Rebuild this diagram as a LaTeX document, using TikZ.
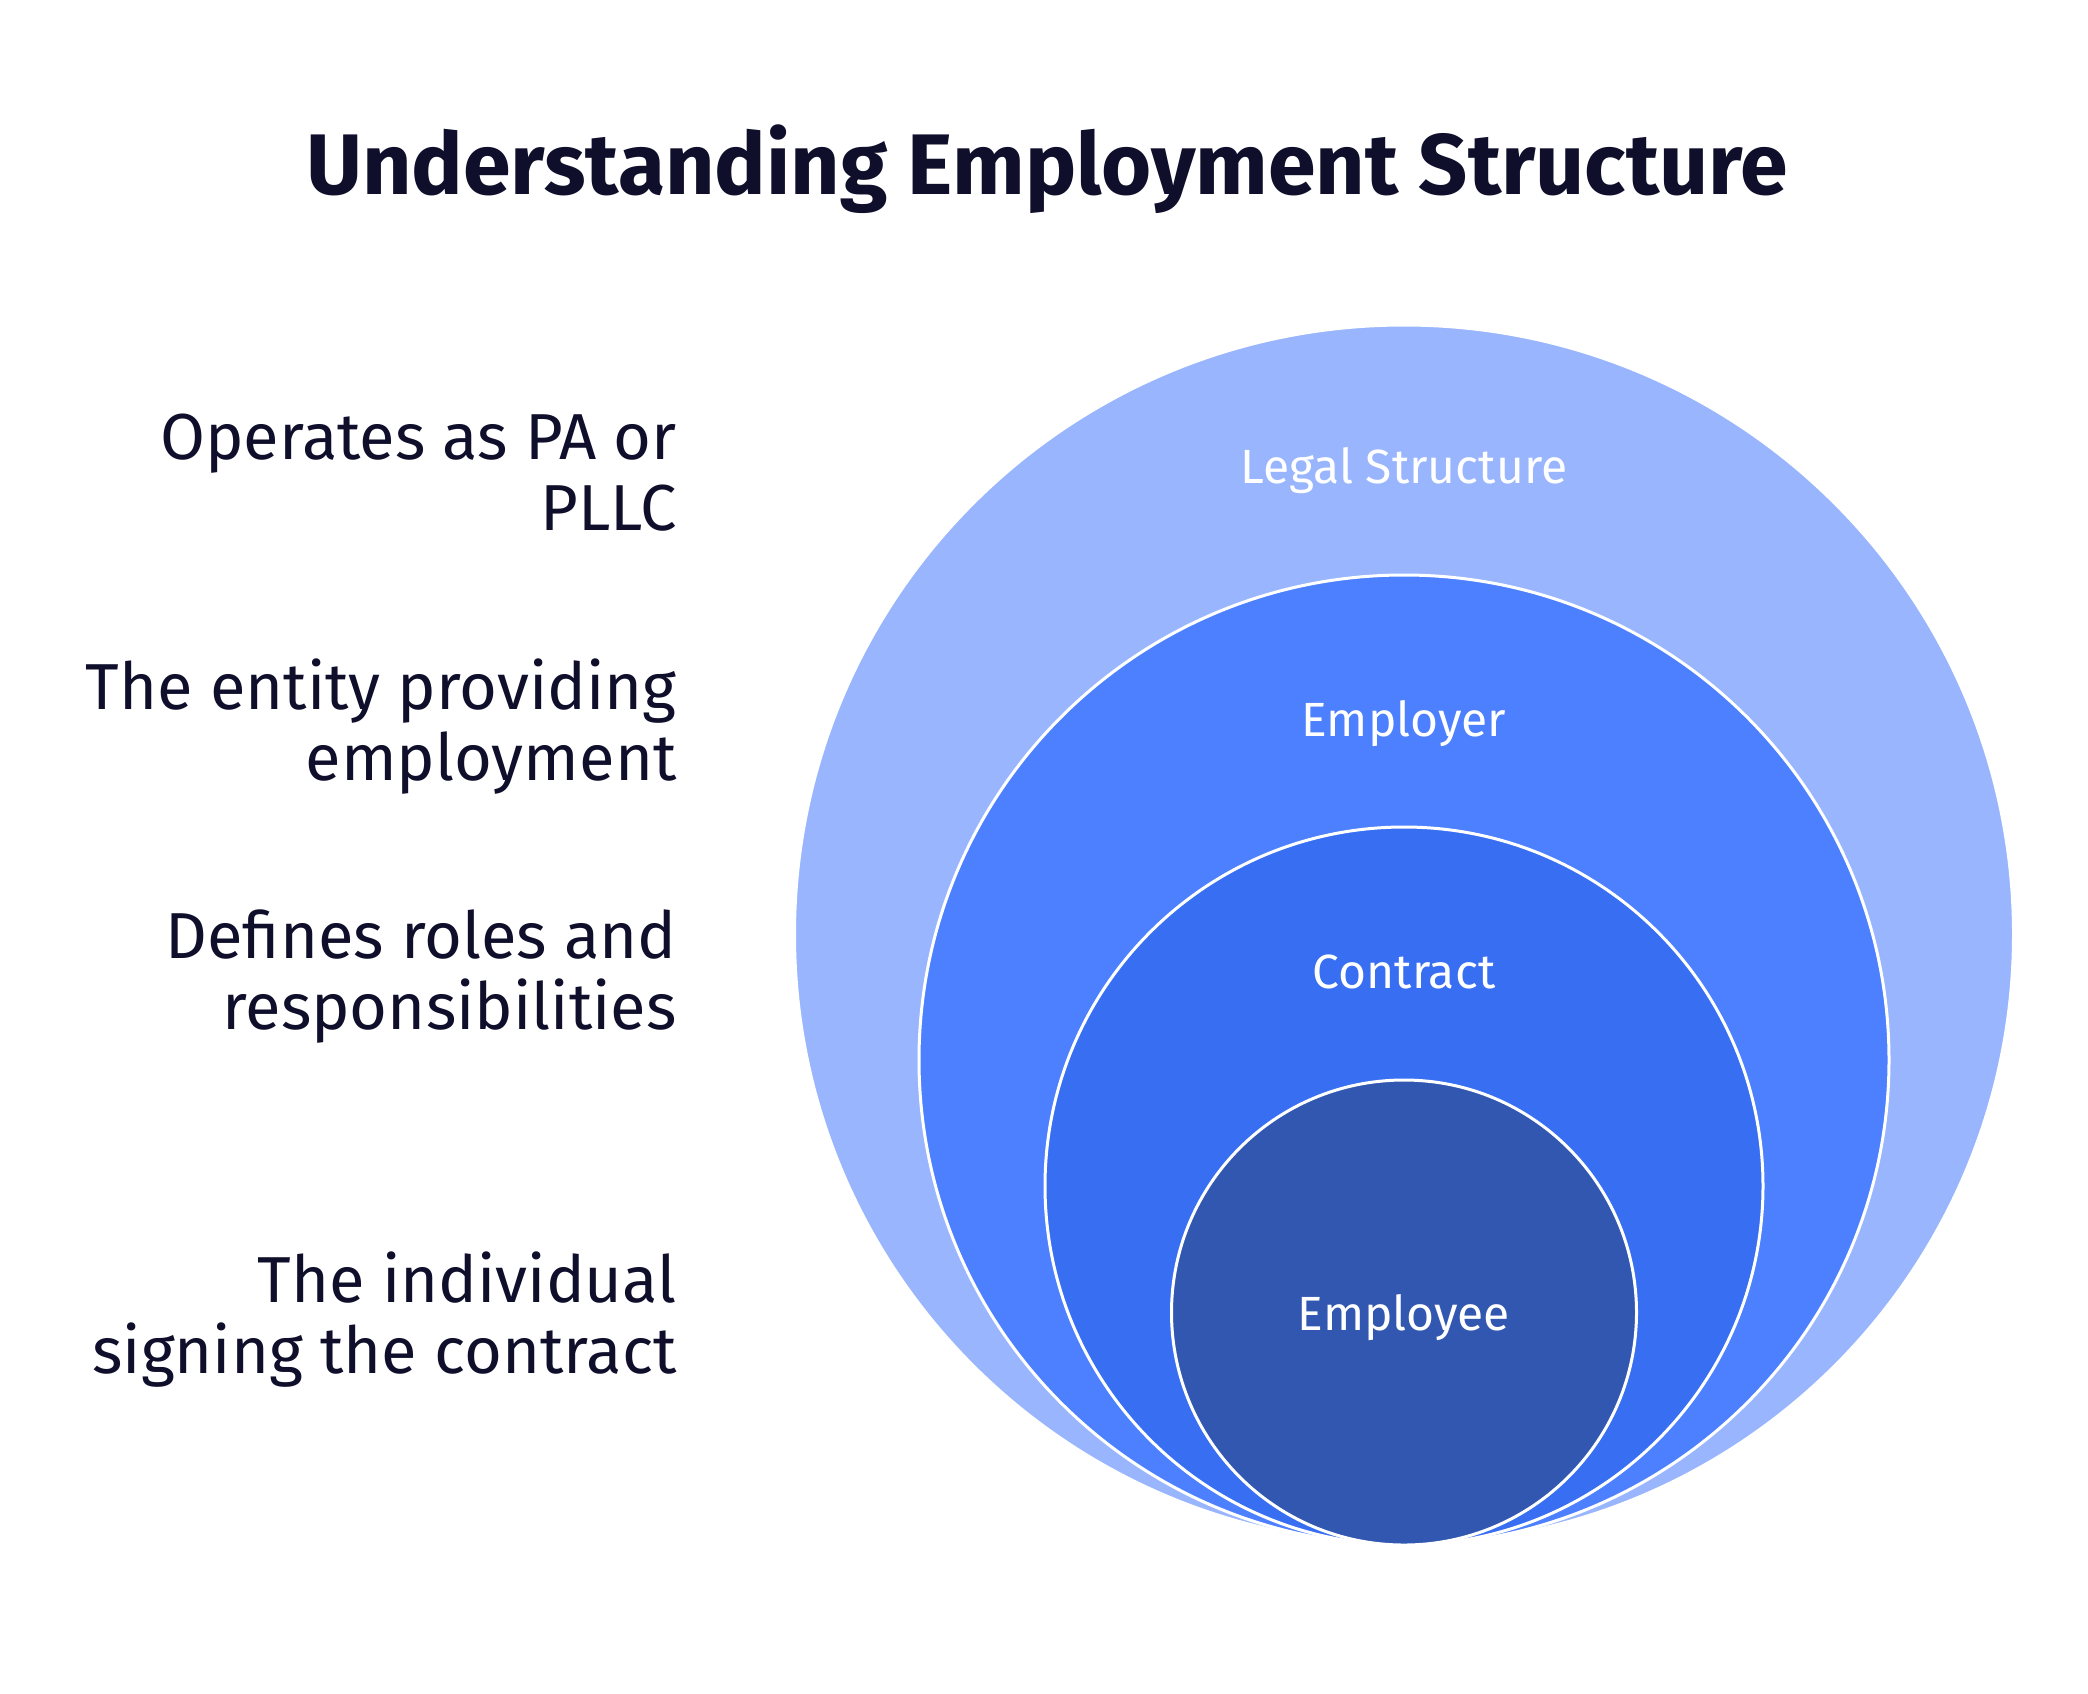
\documentclass[tikz,border=0pt]{standalone}
\usepackage{fontspec}
\setmainfont{Fira Sans}
\definecolor{ink}{HTML}{0F0F2C}
\definecolor{ringA}{HTML}{99B5FD}
\definecolor{ringB}{HTML}{4D80FE}
\definecolor{ringC}{HTML}{376EF2}
\definecolor{ringD}{HTML}{3257B0}
\begin{document}
\begin{tikzpicture}[x=0.5pt,y=-0.5pt,
  ring/.style={draw=white,line width=1.5pt},
  ringlabel/.style={text=white,font=\fontsize{24}{28}\selectfont,inner sep=0pt,anchor=center},
  note/.style={text=ink,font=\fontsize{32.5}{35.5}\selectfont,align=right,inner sep=0pt,anchor=east},
  titlestyle/.style={text=ink,font=\bfseries\fontsize{43}{50}\selectfont,inner sep=0pt,anchor=base}]
\useasboundingbox[fill=white] (0,0) rectangle (2088,1693);
\node[titlestyle] (title) at (1047,194) {Understanding Employment Structure};
% nested circles
\path[ring,fill=ringA] (1404,934.5) circle (609.5);
\path[ring,fill=ringB] (1404,1060) circle (485);
\path[ring,fill=ringC] (1404,1186) circle (359);
\path[ring,fill=ringD] (1404,1312.5) circle (232.5);
% labels
\node[ringlabel] (legal) at (1404,471) {Legal Structure};
\node[ringlabel] (employer) at (1404,724) {Employer};
\node[ringlabel] (contract) at (1404,972) {Contract};
\node[ringlabel] (employee) at (1404,1318) {Employee};
% notes
\node[note] (n1) at (677,473) {Operates as PA or\\PLLC};
\node[note] (n2) at (677,727) {The entity providing\\employment};
\node[note] (n3) at (677,977) {Defines roles and\\responsibilities};
\node[note] (n4) at (677,1320) {The individual\\signing the contract};
\end{tikzpicture}
\end{document}
